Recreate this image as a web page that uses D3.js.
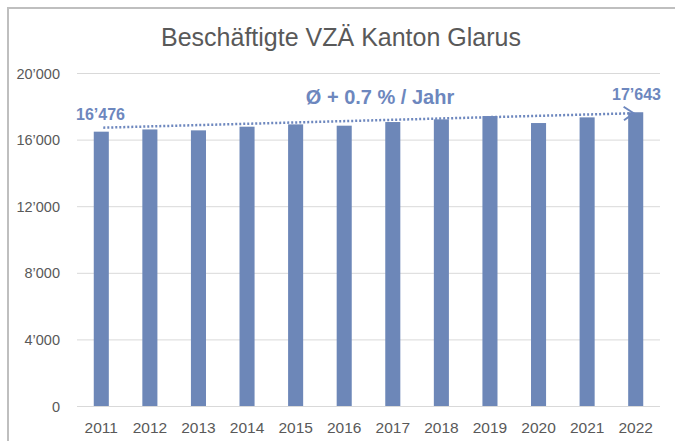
<!DOCTYPE html>
<html><head><meta charset="utf-8">
<script src="https://cdn.jsdelivr.net/npm/d3@7"></script>
<style>body{margin:0;background:#fff}svg{display:block}text{font-family:"Liberation Sans",Arial,sans-serif}</style>
</head><body><svg id="c" width="675" height="441"></svg>
<script>
const title = "Beschäftigte VZÄ Kanton Glarus";
const years = ["2011","2012","2013","2014","2015","2016","2017","2018","2019","2020","2021","2022"];
const values = [16476,16610,16555,16775,16915,16835,17055,17215,17415,16995,17335,17643];
const yTicks = [0,4000,8000,12000,16000,20000];
const trendLabel = "Ø + 0.7 % / Jahr";
const startLabel = "16’476";
const endLabel = "17’643";

const svg = d3.select("#c");
const M = {l:77, r:660, t:73, b:406};
const x = d3.scaleBand().domain(years).range([M.l, M.r]).paddingInner(0.69).paddingOuter(0.345);
const y = d3.scaleLinear().domain([0,20000]).range([M.b, M.t]);
const fmt = v => d3.format(",")(v).replace(/,/g,"’");

// frame
svg.append("path").attr("d","M8,445 V8 H680").attr("fill","none").attr("stroke","#bfbfbf").attr("stroke-width",2);

// title
svg.append("text").attr("x",341).attr("y",46).attr("text-anchor","middle")
  .attr("font-size",25).attr("fill","#595959").text(title);

// grid
svg.append("g").selectAll("line").data(yTicks).join("line")
  .attr("x1",M.l).attr("x2",M.r).attr("y1",d=>y(d)+0.5).attr("y2",d=>y(d)+0.5)
  .attr("stroke","#d9d9d9").attr("stroke-width",1);

// y axis
const ya = svg.append("g").attr("transform",`translate(${M.l-14},0)`)
  .call(d3.axisLeft(y).tickValues(yTicks).tickSize(0).tickFormat(fmt));
ya.select(".domain").remove();
ya.selectAll("text").attr("font-size",14.5).attr("fill","#595959").attr("dy","0.35em").attr("font-family","Liberation Sans, Arial, sans-serif");

// x axis
const xa = svg.append("g").attr("transform",`translate(0,${M.b})`)
  .call(d3.axisBottom(x).tickSize(0).tickPadding(16));
xa.select(".domain").remove();
xa.selectAll("text").attr("font-size",15.5).attr("fill","#595959").attr("font-family","Liberation Sans, Arial, sans-serif");

// bars
svg.append("g").selectAll("rect").data(values).join("rect")
  .attr("x",(d,i)=>x(years[i])).attr("width",x.bandwidth())
  .attr("y",d=>y(d)).attr("height",d=>y(0)-y(d)).attr("fill","#6d87b8");

// trend line
const blue = "#6d87be";
const x0 = x(years[0])+x.bandwidth()/2+2, x1 = x(years[years.length-1])+x.bandwidth()/2-2;
const yA = y(values[0])-4, yB = y(values[values.length-1])+1;
svg.append("line").attr("x1",x0).attr("y1",yA).attr("x2",x1).attr("y2",yB)
  .attr("stroke",blue).attr("stroke-width",2.5).attr("stroke-dasharray","2 2");
const ang = Math.atan2(yB-yA, x1-x0);
const ah = 12;
const p1 = [x1-ah*Math.cos(ang-0.6), yB-ah*Math.sin(ang-0.6)];
const p2 = [x1-ah*Math.cos(ang+0.6), yB-ah*Math.sin(ang+0.6)];
svg.append("path").attr("d",`M${p1}L${x1},${yB}L${p2}`).attr("fill","none").attr("stroke",blue).attr("stroke-width",2);

// labels
svg.append("text").attr("x",76).attr("y",120).attr("font-size",16).attr("font-weight","bold").attr("fill",blue).text(startLabel);
svg.append("text").attr("x",661).attr("y",100).attr("text-anchor","end").attr("font-size",16).attr("font-weight","bold").attr("fill",blue).text(endLabel);
svg.append("text").attr("x",380).attr("y",104).attr("text-anchor","middle").attr("font-size",20).attr("font-weight","bold").attr("fill",blue).text(trendLabel);
</script></body></html>
